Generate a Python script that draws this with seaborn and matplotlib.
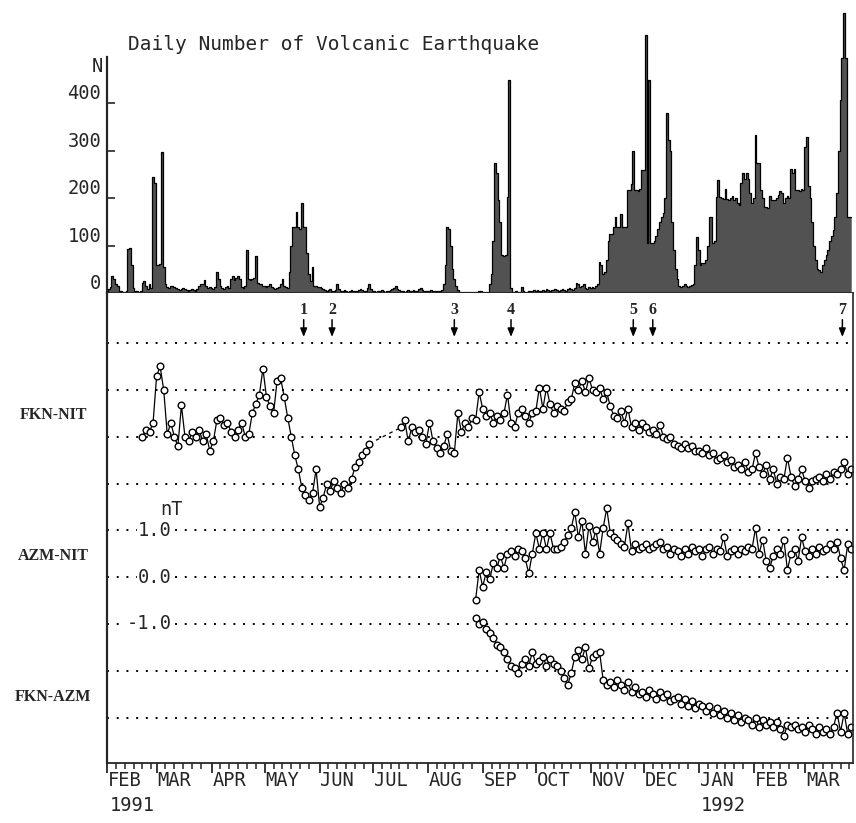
import pandas as pd
import matplotlib
matplotlib.use("Agg")
import matplotlib.pyplot as plt
import matplotlib.dates as mdates
import matplotlib.transforms as mtransforms
import seaborn as sns

# ---- daily number of volcanic earthquakes, one list per month (Feb 1991 - Mar 1992)
feb91 = [5, 8, 12, 35, 30, 18, 15, 5, 4, 3, 3, 5, 92, 95, 60, 10, 5, 4, 3, 4,
         22, 25, 15, 8, 20, 10, 245, 232]
mar91 = [60, 58, 62, 297, 55, 20, 12, 10, 15, 14, 12, 10, 8, 6, 8, 10, 8, 6, 5, 6,
         8, 6, 5, 8, 15, 18, 20, 28, 15, 10, 12]
apr91 = [10, 8, 12, 45, 30, 15, 10, 8, 12, 14, 10, 30, 35, 28, 32, 35, 30, 12, 10, 15,
         90, 30, 28, 30, 32, 78, 22, 20, 18, 15]
may91 = [15, 12, 15, 20, 12, 10, 8, 10, 12, 20, 30, 15, 12, 10, 45, 100, 140, 140, 170, 140,
         135, 190, 140, 140, 85, 40, 25, 55, 15, 14, 12]
jun91 = [12, 10, 8, 6, 5, 6, 8, 5, 4, 6, 20, 8, 5, 4, 6, 5, 3, 4, 6, 5,
         4, 5, 6, 8, 6, 5, 4, 10, 20, 8]
jul91 = [5, 4, 3, 4, 5, 6, 4, 3, 5, 4, 6, 8, 10, 15, 8, 6, 5, 4, 3, 5,
         6, 5, 4, 6, 5, 4, 8, 10, 6, 5, 4]
aug91 = [5, 4, 6, 5, 4, 3, 4, 5, 6, 20, 60, 140, 135, 100, 50, 30, 15, 6, 3, 2,
         2, 3, 2, 2, 3, 2, 2, 3, 2, 4, 5]
sep91 = [3, 2, 2, 3, 20, 40, 110, 273, 252, 196, 150, 80, 78, 80, 202, 448, 10, 3, 2, 4,
         3, 2, 12, 4, 3, 2, 4, 3, 5, 6]
oct91 = [5, 6, 4, 5, 6, 5, 8, 6, 5, 7, 6, 8, 6, 5, 7, 8, 6, 5, 8, 10,
         8, 6, 10, 22, 18, 12, 15, 20, 10, 8, 12]
nov91 = [10, 12, 10, 15, 20, 65, 60, 40, 45, 70, 110, 125, 125, 140, 160, 140, 140, 167, 140, 140,
         139, 217, 217, 230, 300, 217, 217, 215, 220, 260]
dec91 = [260, 543, 105, 448, 105, 105, 110, 120, 135, 150, 160, 168, 200, 378, 322, 300, 150, 90, 50, 30,
         15, 12, 15, 18, 15, 12, 14, 16, 20, 60, 118]
jan92 = [90, 60, 63, 63, 70, 100, 160, 160, 105, 110, 202, 238, 202, 200, 198, 220, 198, 196, 200, 205,
         195, 200, 190, 185, 232, 253, 240, 253, 240, 210, 190]
feb92 = [200, 333, 273, 273, 216, 200, 182, 182, 180, 205, 196, 196, 196, 200, 207, 215, 210, 190, 200, 205,
         200, 262, 253, 262, 217, 217, 215, 220, 217]
mar92 = [307, 328, 225, 200, 150, 100, 70, 50, 48, 45, 60, 70, 80, 90, 110, 120, 133, 160, 210, 300,
         406, 494, 590, 494, 160, 160, 160]
quake_start = "1991-02-01"
quakes = (feb91 + mar91 + apr91 + may91 + jun91 + jul91 + aug91 + sep91 + oct91
          + nov91 + dec91 + jan92 + feb92 + mar92)

# ---- magnetic differences (nT, plotted with offsets), every 2 days
fkn_nit_a_start = "1991-02-21"
fkn_nit_a = [3.0, 3.15, 3.1, 3.3, 4.3, 4.5, 4.0, 3.05, 3.3, 3.0,
             2.8, 3.67, 3.0, 2.9, 3.1, 3.0, 3.15, 2.9, 3.05, 2.7,
             2.9, 3.35, 3.4, 3.25, 3.3, 3.1, 3.0, 3.15, 3.3, 3.0,
             3.05, 3.5, 3.7, 3.9, 4.45, 3.85, 3.65, 3.5, 4.2, 4.25,
             3.85, 3.4, 3.0, 2.6, 2.3, 1.9, 1.75, 1.65, 1.8, 2.3,
             1.5, 1.7, 2.0, 1.85, 2.05, 1.9, 1.8, 2.0, 1.9, 2.1,
             2.35, 2.45, 2.6, 2.7, 2.85]
fkn_nit_b_start = "1991-07-17"
fkn_nit_b = [3.2, 3.35, 2.9, 3.2, 3.1, 3.15, 3.0, 2.85, 3.3, 2.9,
             2.75, 2.65, 2.8, 3.05, 2.7, 2.65, 3.5, 3.1, 3.3, 3.2,
             3.4, 3.35, 3.95, 3.6, 3.45, 3.5, 3.3, 3.45, 3.35, 3.5,
             3.9, 3.3, 3.2, 3.5, 3.6, 3.45, 3.3, 3.5, 3.55, 4.05,
             3.6, 4.05, 3.7, 3.5, 3.65, 3.6, 3.55, 3.75, 3.8, 4.15,
             4.0, 4.2, 3.95, 4.25, 4.0, 3.95, 4.05, 3.8, 3.95, 3.65,
             3.45, 3.4, 3.55, 3.3, 3.6, 3.2, 3.3, 3.15, 3.3, 3.2,
             3.1, 3.15, 3.05, 3.25, 3.0, 2.95, 3.0, 2.85, 2.8, 2.75,
             2.85, 2.75, 2.8, 2.7, 2.7, 2.65, 2.75, 2.6, 2.65, 2.5,
             2.55, 2.6, 2.45, 2.5, 2.35, 2.4, 2.3, 2.45, 2.25, 2.3,
             2.65, 2.35, 2.2, 2.4, 2.1, 2.3, 2.0, 2.15, 2.1, 2.55,
             2.15, 1.95, 2.1, 2.3, 2.05, 1.9, 2.05, 2.1, 2.15, 2.05,
             2.2, 2.1, 2.25, 2.2, 2.3, 2.45, 2.2, 2.3]
azm_start = "1991-08-28"
azm_nit = [-0.49, 0.15, -0.2, 0.1, -0.05, 0.3, 0.2, 0.45, 0.2, 0.5,
           0.55, 0.45, 0.6, 0.55, 0.4, 0.08, 0.5, 0.94, 0.6, 0.95,
           0.6, 0.94, 0.6, 0.6, 0.65, 0.75, 0.9, 1.05, 1.39, 0.85,
           1.2, 0.5, 1.1, 0.75, 1.0, 0.5, 1.05, 1.47, 0.95, 0.85,
           0.8, 0.7, 0.65, 1.15, 0.55, 0.7, 0.6, 0.65, 0.7, 0.6,
           0.65, 0.7, 0.75, 0.6, 0.65, 0.5, 0.6, 0.55, 0.45, 0.6,
           0.5, 0.65, 0.55, 0.6, 0.45, 0.6, 0.65, 0.5, 0.6, 0.55,
           0.85, 0.45, 0.55, 0.6, 0.5, 0.6, 0.55, 0.65, 0.6, 1.05,
           0.5, 0.8, 0.35, 0.2, 0.45, 0.6, 0.5, 0.8, 0.15, 0.5,
           0.6, 0.35, 0.85, 0.55, 0.45, 0.6, 0.5, 0.65, 0.55, 0.6,
           0.7, 0.6, 0.75, 0.4, 0.15, 0.7, 0.6]
fkn_azm = [-0.88, -1.0, -0.95, -1.1, -1.2, -1.3, -1.45, -1.5, -1.6, -1.75,
           -1.9, -1.95, -2.05, -1.85, -1.75, -1.9, -1.6, -1.85, -1.8, -1.7,
           -1.9, -1.75, -1.85, -1.9, -2.0, -2.15, -2.3, -2.05, -1.7, -1.55,
           -1.75, -1.5, -1.95, -1.7, -1.65, -1.6, -2.2, -2.3, -2.25, -2.35,
           -2.2, -2.3, -2.4, -2.25, -2.45, -2.35, -2.5, -2.45, -2.55, -2.4,
           -2.5, -2.6, -2.45, -2.55, -2.5, -2.65, -2.6, -2.55, -2.7, -2.6,
           -2.75, -2.65, -2.8, -2.7, -2.75, -2.85, -2.75, -2.9, -2.8, -2.95,
           -2.85, -3.0, -2.9, -3.05, -2.95, -3.1, -3.0, -3.05, -3.15, -3.0,
           -3.2, -3.05, -3.15, -3.1, -3.2, -3.1, -3.25, -3.4, -3.15, -3.2,
           -3.15, -3.25, -3.2, -3.3, -3.15, -3.25, -3.35, -3.2, -3.3, -3.25,
           -3.35, -3.2, -2.9, -3.3, -2.9, -3.35, -3.2]

series_names = ["FKN-NIT", "AZM-NIT", "FKN-AZM"]
event_numbers = ["1", "2", "3", "4", "5", "6", "7"]
event_dates = ["1991-05-23", "1991-06-08", "1991-08-16", "1991-09-17",
               "1991-11-25", "1991-12-06", "1992-03-22"]
month_labels = ["FEB", "MAR", "APR", "MAY", "JUN", "JUL", "AUG", "SEP", "OCT",
                "NOV", "DEC", "JAN", "FEB", "MAR"]
year_labels = ["1991", "1992"]
count_ticks = [0, 100, 200, 300, 400]
nt_ticks = [1.0, 0.0, -1.0]
grid_levels = [-3, -2, -1, 0, 1, 2, 3, 4, 5]

sns.set_style("ticks")
MONO = "DejaVu Sans Mono"
SERIF = "Liberation Serif"
plt.rcParams["font.family"] = [MONO]

W, H = 856, 823
fig = plt.figure(figsize=(W / 100, H / 100), dpi=100)
ax_top = fig.add_axes([107 / W, 530 / H, 746 / W, 293 / H])
ax = fig.add_axes([107 / W, 60 / H, 746 / W, 470 / H])

x0 = pd.Timestamp("1991-02-01")
x1 = pd.Timestamp("1992-03-28")

# ---- top panel: earthquake counts
days = pd.date_range(quake_start, periods=len(quakes), freq="D")
ax_top.fill_between(days, quakes, step="mid", color="#525252", lw=0)
ax_top.step(days, quakes, where="mid", color="black", lw=0.9)
ax_top.set_xlim(x0, x1)
ax_top.set_ylim(0, 617)
ax_top.spines["top"].set_visible(False)
ax_top.spines["right"].set_visible(False)
ax_top.spines["left"].set_bounds(0, 497)
ax_top.spines["left"].set_linewidth(1.6)
ax_top.spines["bottom"].set_linewidth(1.3)
ax_top.xaxis.set_major_locator(mdates.MonthLocator())
ax_top.xaxis.set_major_formatter(plt.NullFormatter())
ax_top.tick_params(axis="x", direction="out", length=4, width=1.2)
ax_top.set_yticks(count_ticks)
ax_top.set_yticklabels([])
ax_top.tick_params(axis="y", direction="in", length=6, width=1.2)
ytrans = mtransforms.blended_transform_factory(ax_top.transAxes, ax_top.transData)
for v in count_ticks:
    ax_top.text(-0.008, v + 20, str(v), transform=ytrans, ha="right", va="center",
                fontsize=13.5)
ax_top.text(-0.013, 476, "N", transform=ytrans, ha="center", va="center", fontsize=13.5)
fig.text(128 / W, 1 - 45 / H, "Daily Number of Volcanic Earthquake", ha="left",
         va="center", fontsize=14)

# ---- bottom panel: magnetic differences
for g in grid_levels:
    ax.axhline(g, color="black", ls=(0, (1, 4)), lw=1.4, zorder=0)

line_kw = dict(color="black", lw=0.9, marker="o", ms=4.8, mfc="white", mec="black",
               mew=1.0, estimator=None, sort=False, legend=False)
xa = pd.date_range(fkn_nit_a_start, periods=len(fkn_nit_a), freq="2D")
xb = pd.date_range(fkn_nit_b_start, periods=len(fkn_nit_b), freq="2D")
xc = pd.date_range(azm_start, periods=len(azm_nit), freq="2D")
ax.plot([xa[-1], xb[0]], [fkn_nit_a[-1], fkn_nit_b[0]], color="black", lw=0.9,
        ls=(0, (3, 3)))
sns.lineplot(x=xa, y=fkn_nit_a, ax=ax, **line_kw)
sns.lineplot(x=xb, y=fkn_nit_b, ax=ax, **line_kw)
sns.lineplot(x=xc, y=azm_nit, ax=ax, **line_kw)
sns.lineplot(x=xc, y=fkn_azm, ax=ax, **line_kw)

ax.set_xlim(x0, x1)
ax.set_ylim(-3.97, 6.07)
ax.set_yticks([])
ax.set_xlabel("")
ax.set_ylabel("")
ax.spines["top"].set_visible(False)
ax.spines["left"].set_linewidth(1.6)
ax.spines["right"].set_linewidth(1.2)
ax.spines["bottom"].set_linewidth(1.3)
ax.xaxis.set_major_locator(mdates.MonthLocator())
ax.xaxis.set_minor_locator(mdates.DayLocator(bymonthday=[6, 11, 16, 21, 26]))
ax.xaxis.set_major_formatter(plt.NullFormatter())
ax.tick_params(axis="x", which="major", direction="out", length=7, width=1.3)
ax.tick_params(axis="x", which="minor", direction="out", length=4, width=1.1)

ntrans = mtransforms.blended_transform_factory(ax.transAxes, ax.transData)
for v in nt_ticks:
    ax.text(0.0871, v, f"{v:.1f}", transform=ntrans, ha="right", va="center",
            fontsize=13.5, bbox=dict(facecolor="white", edgecolor="none", pad=0.5))
ax.text(0.0858, 1.45, "nT", transform=ntrans, ha="center", va="center", fontsize=13.5)

for name, yf in zip(series_names, [1 - 415 / H, 1 - 556 / H, 1 - 697 / H]):
    fig.text(53 / W, yf, name, ha="center", va="center", family=SERIF,
             weight="bold", fontsize=11.5)

for num, d in zip(event_numbers, event_dates):
    xd = mdates.date2num(pd.Timestamp(d))
    ax.annotate("", xy=(xd, 5.13), xytext=(xd, 5.5),
                arrowprops=dict(arrowstyle="-|>,head_length=0.5,head_width=0.2",
                                color="black", lw=1.1, shrinkA=0, shrinkB=0))
    ax.text(xd, 5.7, num, ha="center", va="center", family=SERIF, weight="bold",
            fontsize=11.5)

xtrans = mtransforms.blended_transform_factory(ax.transData, ax.transAxes)
month_starts = pd.date_range("1991-02-01", periods=len(month_labels), freq="MS")
for m, lab in zip(month_starts, month_labels):
    ax.text(mdates.date2num(m + pd.Timedelta(days=10)), -0.038, lab, transform=xtrans,
            ha="center", va="center", fontsize=13.5)
for m, lab in zip([month_starts[0], month_starts[11]], year_labels):
    ax.text(mdates.date2num(m + pd.Timedelta(days=14)), -0.09, lab, transform=xtrans,
            ha="center", va="center", fontsize=13.5)

fig.savefig("out.png", dpi=100)
plt.close(fig)
